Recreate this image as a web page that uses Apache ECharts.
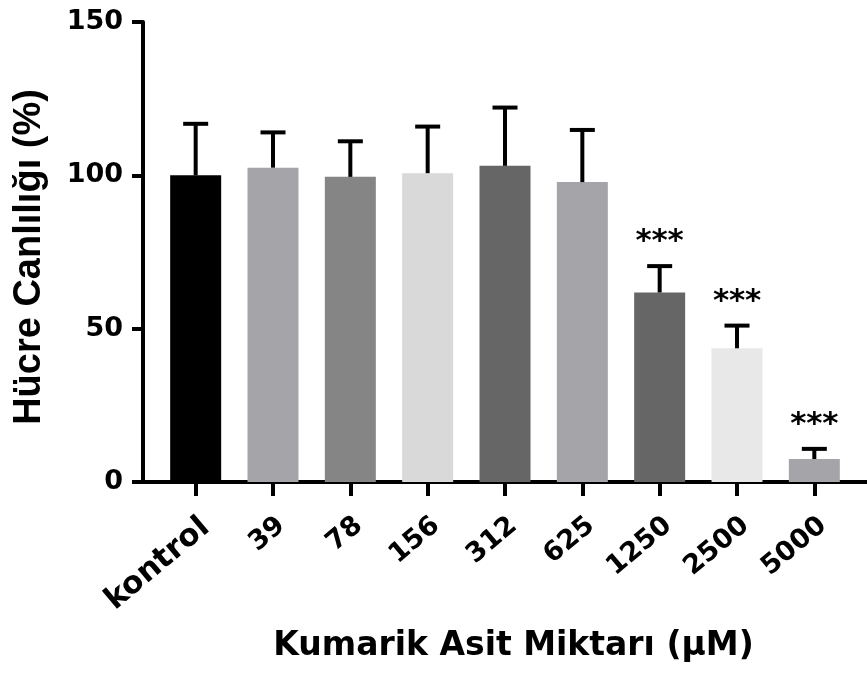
<!DOCTYPE html>
<html>
<head>
<meta charset="utf-8">
<script src="https://cdn.jsdelivr.net/npm/echarts@6/dist/echarts.min.js"></script>
<style>
html,body{margin:0;padding:0;background:#fff;}
#chart{width:867px;height:682px;}
</style>
</head>
<body>
<div id="chart"></div>
<script>
const categories = ['kontrol', '39', '78', '156', '312', '625', '1250', '2500', '5000'];
const means = [100, 102.5, 99.5, 100.7, 103.1, 97.8, 61.8, 43.6, 7.5];
const errors = [16.8, 11.5, 11.6, 15.2, 19.0, 17.0, 8.6, 7.4, 3.3];
const significance = ['', '', '', '', '', '', '***', '***', '***'];
const barColors = ['#000000', '#a5a5a9', '#858585', '#d9d9d9', '#666666', '#a5a5a9', '#666666', '#e8e8e8', '#a5a5a9'];
const yTicks = [0, 50, 100, 150];

const FONT = 'DejaVu Sans';
const chart = echarts.init(document.getElementById('chart'), null, {renderer: 'canvas'});

const option = {
  animation: false,
  backgroundColor: '#ffffff',
  grid: [
    {left: 157, right: 14, top: 22, bottom: 200},
    {left: 143, right: 0, top: 22, bottom: 200}
  ],
  xAxis: [
    {
      type: 'category', gridIndex: 0, data: categories,
      axisLine: {show: false},
      axisTick: {show: true, alignWithLabel: true, length: 14, lineStyle: {color: '#000', width: 4}},
      axisLabel: {
        rotate: 40, margin: 30, interval: 0,
        color: '#000', fontFamily: FONT, fontWeight: 'bold', fontSize: 27,
        verticalAlign: 'top', align: 'right',
        formatter: function (v, i) { return i === 0 ? '{k|' + v + '}' : v; },
        rich: {k: {fontFamily: FONT, fontWeight: 'bold', fontSize: 31, color: '#000'}}
      },
      splitLine: {show: false}
    },
    {
      type: 'value', gridIndex: 1, min: 0, max: 1,
      axisLine: {show: true, onZero: false, lineStyle: {color: '#000', width: 4}},
      axisTick: {show: false}, axisLabel: {show: false}, splitLine: {show: false},
      name: 'Kumarik Asit Miktarı (μM)', nameLocation: 'middle', nameGap: 148,
      nameTextStyle: {color: '#000', fontFamily: FONT, fontWeight: 'bold', fontSize: 33, padding: [0, 0, 0, 17]}
    }
  ],
  yAxis: [
    {
      type: 'value', gridIndex: 0, min: 0, max: 150, interval: 50, show: false
    },
    {
      type: 'value', gridIndex: 1, min: 0, max: 150, interval: 50,
      axisLine: {show: true, lineStyle: {color: '#000', width: 4}},
      axisTick: {show: true, length: 11, lineStyle: {color: '#000', width: 4}},
      axisLabel: {
        color: '#000', fontFamily: FONT, fontWeight: 'bold', fontSize: 27, margin: 20,
        formatter: function (v) { return yTicks.indexOf(v) >= 0 ? String(v) : ''; }
      },
      splitLine: {show: false},
      name: 'Hücre Canlılığı (%)', nameLocation: 'middle', nameGap: 94, nameRotate: 90,
      nameTextStyle: {color: '#000', fontFamily: 'Liberation Sans', fontWeight: 'bold', fontSize: 38, padding: [0, 10, 0, 0]}
    }
  ],
  series: [
    {
      type: 'bar', xAxisIndex: 0, yAxisIndex: 0, barWidth: 51,
      data: means.map(function (m, i) { return {value: m, itemStyle: {color: barColors[i]}}; }),
      z: 2
    },
    {
      type: 'custom', xAxisIndex: 0, yAxisIndex: 0, z: 5,
      data: means.map(function (m, i) { return [i, m, errors[i]]; }),
      renderItem: function (params, api) {
        const idx = params.dataIndex;
        const i = api.value(0), m = api.value(1), e = api.value(2);
        const top = api.coord([i, m]);
        const cap = api.coord([i, m + e]);
        const half = 12.5;
        const children = [
          {type: 'line', shape: {x1: top[0], y1: top[1], x2: cap[0], y2: cap[1]},
           style: {stroke: '#000', lineWidth: 4}},
          {type: 'line', shape: {x1: cap[0] - half, y1: cap[1], x2: cap[0] + half, y2: cap[1]},
           style: {stroke: '#000', lineWidth: 4}}
        ];
        const sig = significance[idx];
        if (sig) {
          for (let k = 0; k < sig.length; k++) {
            children.push({
              type: 'text',
              style: {
                text: '*', x: cap[0] + (k - (sig.length - 1) / 2) * 16, y: cap[1] - 24,
                fill: '#000', font: 'bold 31px "DejaVu Sans"', align: 'center', verticalAlign: 'middle'
              }
            });
          }
        }
        return {type: 'group', children: children};
      }
    }
  ]
};
chart.setOption(option);
</script>
</body>
</html>
